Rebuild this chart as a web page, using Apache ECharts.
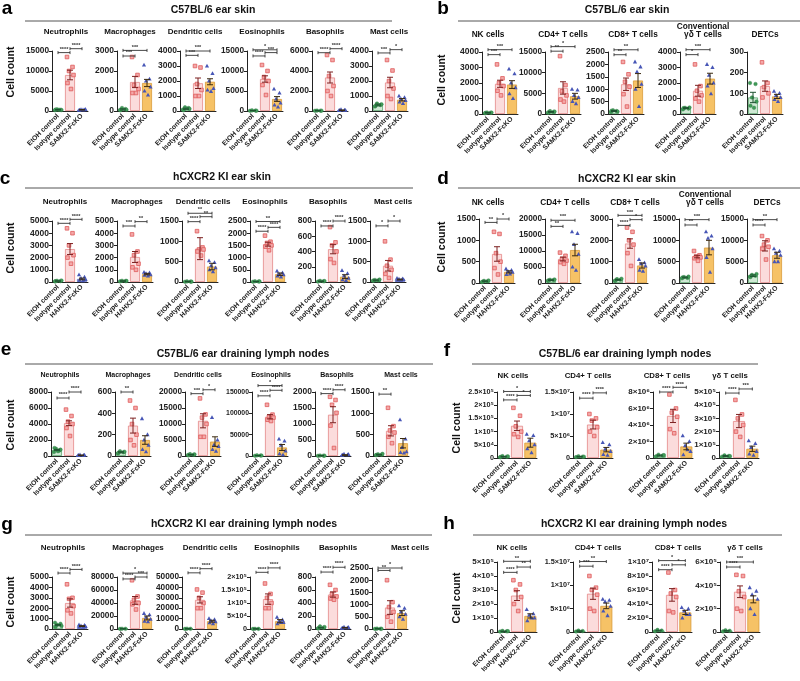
<!DOCTYPE html>
<html><head><meta charset="utf-8">
<script src="https://cdn.jsdelivr.net/npm/echarts@6/dist/echarts.min.js"></script>
<style>html,body{margin:0;padding:0;background:#fff}#c{width:800px;height:681px}</style>
</head><body><div id="c"></div>
<script>
// ---------------- DATA ----------------
const groupsSAMX = ['EtOH control', 'Isotype control', 'SAMX2-FcKO'];
const groupsHAHX = ['EtOH control', 'Isotype control', 'HAHX2-FcKO'];
const myeloidCells = ['Neutrophils', 'Macrophages', 'Dendritic cells', 'Eosinophils', 'Basophils', 'Mast cells'];
const skinLymphCells = ['NK cells', 'CD4+ T cells', 'CD8+ T cells', 'Conventional\nγδ T cells', 'DETCs'];
const lnLymphCells = ['NK cells', 'CD4+ T cells', 'CD8+ T cells', 'γδ T cells'];

// a: C57BL/6 ear skin
const aMax = [15000, 3000, 4000, 15000, 6000, 4000];
const aStep = [5000, 1000, 1000, 5000, 2000, 1000];
const aMean = [[300, 9000, 300], [80, 1450, 1400], [150, 1850, 1950], [100, 8000, 3000], [30, 3350, 80], [400, 1900, 750]];
const aSem = [[50, 1200, 50], [30, 280, 180], [40, 350, 200], [30, 800, 600], [10, 550, 20], [60, 350, 80]];
const aPts = [
  [[200, 300, 400, 250, 350, 300], [13500, 11000, 10000, 9000, 7000, 5500], [200, 300, 350, 400, 250, 300]],
  [[50, 100, 150, 60, 40], [2700, 1800, 1300, 1100, 900, 900], [2300, 1600, 1500, 1200, 1000, 800]],
  [[100, 200, 250, 150, 50], [3000, 2900, 1800, 1400, 1000, 1000], [3000, 2500, 2000, 1500, 1400, 1300]],
  [[50, 100, 150, 80], [11500, 10000, 8500, 7500, 6500, 4000], [5500, 4500, 3000, 2000, 1500, 1000]],
  [[20, 30, 40, 30], [5600, 5100, 3500, 2500, 2000, 1500], [50, 100, 150, 80, 60]],
  [[300, 400, 500, 450, 350], [3400, 2700, 2000, 1500, 1000, 800], [1000, 900, 800, 700, 600, 500]]
];
const aSig = [
  [[0, 1, '****', 14600], [1, 2, '****', 15580]],
  [[0, 1, '***', 2750], [0, 2, '***', 3030]],
  [[0, 1, '***', 3710], [0, 2, '***', 4000]],
  [[0, 1, '****', 13760], [1, 2, '***', 14600], [0, 2, '*', 15300]],
  [[0, 1, '****', 5830], [1, 2, '****', 6230]],
  [[0, 1, '***', 3870], [1, 2, '*', 4090]]
];
const aThird = ['b', 'o', 'o', 'o', 'b', 'o'];
const aSci = [0, 0, 0, 0, 0, 0];

// b: C57BL/6 ear skin
const bMax = [4000, 15000, 2500, 4000, 300];
const bStep = [1000, 5000, 500, 1000, 100];
const bMean = [[80, 1950, 1900], [500, 6300, 4300], [120, 1200, 1350], [380, 1500, 2280], [80, 135, 85]];
const bSem = [[20, 230, 250], [100, 1500, 700], [20, 250, 280], [30, 350, 350], [25, 25, 10]];
const bPts = [
  [[50, 80, 100, 90, 70], [3200, 2300, 2000, 1800, 1500, 1200], [2900, 2600, 2000, 1700, 1300, 1000]],
  [[300, 500, 700, 600, 400], [14000, 7000, 5500, 4500, 3500, 3000], [6000, 5800, 4500, 4000, 3000, 2500]],
  [[80, 120, 150, 100, 130], [2100, 1600, 1300, 1100, 800, 300], [2100, 1900, 1700, 1200, 1000, 300]],
  [[300, 350, 400, 420, 380], [3200, 1800, 1500, 1200, 1000, 800], [3200, 3000, 2500, 2000, 1800, 1300]],
  [[150, 145, 80, 60, 40, 30], [250, 150, 130, 100, 80], [110, 100, 90, 80, 70, 60]]
];
const bSig = [
  [[0, 1, '***', 3830], [0, 2, '***', 4150]],
  [[0, 1, '**', 15200], [0, 2, '*', 16300]],
  [[0, 1, '**', 2390], [0, 2, '**', 2590]],
  [[0, 1, '*', 3830], [0, 2, '***', 4150]],
  []
];
const bThird = ['o', 'o', 'o', 'o', 'o'];
const bSci = [0, 0, 0, 0, 0];

// c: hCXCR2 KI ear skin
const cMax = [5000, 5000, 1500, 2500, 800, 1500];
const cStep = [1000, 1000, 500, 500, 200, 500];
const cMean = [[80, 2700, 250], [80, 2050, 650], [10, 820, 380], [20, 1550, 320], [10, 430, 70], [40, 400, 60]];
const cSem = [[20, 450, 70], [20, 450, 60], [5, 270, 80], [5, 80, 50], [3, 60, 25], [10, 130, 10]];
const cPts = [
  [[50, 80, 100, 120, 60], [4400, 4000, 3000, 2200, 2000, 1500], [600, 400, 300, 200, 150, 100]],
  [[50, 80, 100, 90], [3900, 2500, 2200, 1500, 1200, 1000], [800, 750, 700, 600, 550, 500]],
  [[5, 10, 15, 8], [1250, 850, 800, 800, 750, 650], [520, 480, 400, 350, 300, 250]],
  [[10, 20, 30, 25], [1900, 1650, 1600, 1500, 1450, 1300], [450, 380, 320, 300, 250, 200]],
  [[5, 10, 15, 12], [720, 520, 480, 400, 300, 250], [150, 110, 80, 50, 30, 20]],
  [[30, 40, 50, 60, 35], [1000, 550, 400, 300, 200, 100], [90, 80, 70, 60, 50, 40]]
];
const cSig = [
  [[0, 1, '****', 4810], [1, 2, '****', 5136]],
  [[0, 1, '***', 4590], [1, 2, '**', 4950]],
  [[0, 1, '****', 1484], [1, 2, '**', 1606], [0, 2, '**', 1690]],
  [[0, 1, '****', 2080], [1, 2, '****', 2240], [0, 2, '**', 2480]],
  [[0, 1, '****', 735], [1, 2, '****', 800]],
  [[0, 1, '*', 1380], [1, 2, '*', 1500]]
];
const cThird = ['b', 'o', 'o', 'o', 'o', 'b'];
const cSci = [0, 0, 0, 0, 0, 0];

// d: hCXCR2 KI ear skin
const dMax = [1500, 20000, 3000, 15000, 15000];
const dStep = [500, 5000, 1000, 5000, 5000];
const dMean = [[40, 680, 260], [900, 7500, 10300], [150, 1850, 820], [1300, 6200, 8300], [1700, 8700, 6500]];
const dSem = [[10, 170, 25], [100, 600, 1800], [20, 220, 120], [100, 300, 1700], [200, 1200, 700]];
const dPts = [
  [[20, 40, 50, 60, 30], [1200, 1150, 700, 500, 350, 200], [330, 300, 270, 250, 200, 210]],
  [[700, 900, 1000, 1100, 800], [9500, 8500, 7500, 7000, 6500, 6000], [16000, 15500, 12000, 9000, 5000, 4000]],
  [[100, 150, 180, 200, 120], [2600, 2400, 2000, 1800, 1400, 800], [1100, 950, 900, 800, 600, 550]],
  [[1100, 1200, 1400, 1500, 1300], [7500, 6500, 6200, 6000, 5800, 5200], [12000, 11000, 10500, 8000, 6000, 2500]],
  [[1500, 1700, 1900, 2100, 1400], [11000, 10000, 9000, 8500, 8000, 5500], [8000, 7500, 7000, 6500, 5000, 5000]]
];
const dSig = [
  [[0, 1, '**', 1420], [1, 2, '*', 1500]],
  [[0, 1, '**', 17700], [0, 2, '***', 19600]],
  [[0, 1, '****', 2700], [1, 2, '*', 2970], [0, 2, '***', 3170]],
  [[0, 1, '**', 13600], [0, 2, '***', 14850]],
  [[0, 1, '****', 13600], [0, 2, '**', 14850]]
];
const dThird = ['o', 'o', 'o', 'o', 'o'];
const dSci = [0, 0, 0, 0, 0];

// e: C57BL/6 ear draining lymph nodes
const eMax = [8000, 600, 20000, 150000, 2000, 1500];
const eStep = [2000, 200, 5000, 50000, 500, 500];
const eMean = [[750, 4100, 100], [35, 285, 150], [400, 11000, 4500], [1000, 92000, 20000], [10, 1290, 30], [30, 590, 300]];
const eSem = [[80, 300, 20], [5, 70, 40], [100, 2200, 1500], [200, 5000, 7000], [3, 250, 10], [8, 120, 110]];
const ePts = [
  [[500, 700, 900, 800, 1000, 600], [5800, 5000, 4300, 4000, 3500, 2500], [50, 100, 150, 120, 80]],
  [[25, 35, 45, 40, 30], [520, 450, 300, 200, 150, 100], [350, 200, 150, 100, 60, 40]],
  [[300, 400, 600, 500, 200], [18000, 13000, 12000, 10000, 6000, 6000], [12000, 5000, 3500, 3000, 2000, 1500]],
  [[500, 1000, 1500, 1000], [120000, 97000, 92000, 90000, 85000, 82000], [40000, 35000, 25000, 12000, 5000, 3000]],
  [[5, 10, 15, 10], [1850, 1750, 1600, 1350, 950, 250], [20, 40, 60, 50, 30]],
  [[20, 30, 40, 50, 25], [1130, 700, 600, 550, 450, 300], [850, 400, 200, 100, 80, 70]]
];
const eSig = [
  [[0, 1, '****', 7250], [1, 2, '****', 8000]],
  [[0, 1, '**', 600]],
  [[0, 1, '***', 19480], [1, 2, '*', 20700]],
  [[0, 1, '****', 141000], [1, 2, '****', 154000], [0, 2, '*', 165000]],
  [[0, 1, '****', 1950], [1, 2, '****', 2070]],
  [[0, 1, '**', 1450]]
];
const eThird = ['b', 'o', 'o', 'o', 'b', 'o'];
const eSci = [0, 0, 0, 0, 0, 0];

// f: C57BL/6 ear draining lymph nodes
const fMax = [250000, 15000000, 8000000, 500000];
const fStep = [50000, 5000000, 2000000, 100000];
const fMean = [[5000, 122000, 58000], [300000, 7600000, 1900000], [300000, 5100000, 1400000], [15000, 280000, 70000]];
const fSem = [[1000, 18000, 17000], [60000, 1000000, 500000], [60000, 800000, 400000], [3000, 50000, 20000]];
const fPts = [
  [[3000, 5000, 7000, 6000, 4000], [190000, 160000, 120000, 100000, 90000, 80000], [90000, 85000, 65000, 50000, 35000, 20000]],
  [[200000, 300000, 400000, 300000], [10000000, 9000000, 8500000, 7000000, 6000000, 5000000], [3500000, 3000000, 2000000, 1500000, 800000, 600000]],
  [[200000, 300000, 400000, 350000], [7700000, 6000000, 5500000, 5000000, 3500000, 3000000], [2700000, 2000000, 1500000, 800000, 400000, 1000000]],
  [[10000, 15000, 20000, 15000], [440000, 330000, 300000, 250000, 200000, 160000], [130000, 110000, 80000, 50000, 30000, 20000]]
];
const fSig = [
  [[0, 1, '****', 220000], [1, 2, '*', 237000], [0, 2, '*', 252000]],
  [[0, 1, '****', 13600000], [1, 2, '****', 14800000]],
  [[0, 1, '****', 8000000], [1, 2, '****', 8570000]],
  [[0, 1, '****', 492000], [1, 2, '***', 523000]]
];
const fThird = ['o', 'o', 'o', 'o'];
const fSci = [1, 1, 1, 1];

// g: hCXCR2 KI ear draining lymph nodes
const gMax = [5000, 80000, 50000, 200000, 800, 2500];
const gStep = [1000, 20000, 10000, 50000, 200, 500];
const gMean = [[380, 2500, 280], [300, 44000, 17000], [200, 28000, 7500], [500, 115000, 30000], [20, 530, 20], [10, 880, 650]];
const gSem = [[60, 400, 40], [50, 6000, 3000], [50, 3000, 900], [100, 20000, 6000], [5, 40, 5], [3, 280, 100]];
const gPts = [
  [[600, 500, 400, 300, 200], [4300, 3000, 2900, 2200, 1800, 1500], [400, 350, 300, 250, 200, 180]],
  [[200, 300, 400], [75000, 50000, 45000, 40000, 38000, 30000], [24000, 22000, 18000, 15000, 12000, 11000]],
  [[100, 200, 300], [38000, 35000, 30000, 25000, 20000, 20000], [10000, 9000, 8000, 7000, 6000, 5000]],
  [[300, 500, 700], [175000, 135000, 120000, 100000, 80000, 80000], [45000, 35000, 30000, 25000, 20000, 25000]],
  [[10, 20, 40, 30, 10], [680, 600, 540, 500, 470, 450], [10, 20, 30, 25, 15]],
  [[5, 10, 15, 8], [2000, 1100, 900, 700, 500, 300], [950, 850, 700, 600, 500, 400]]
];
const gSig = [
  [[0, 1, '****', 5380], [1, 2, '****', 5730]],
  [[0, 1, '****', 77000], [1, 2, '***', 80000], [0, 2, '*', 86000]],
  [[0, 1, '****', 54000], [1, 2, '****', 58000]],
  [[0, 1, '****', 218000], [1, 2, '****', 235000]],
  [[0, 1, '****', 876], [1, 2, '****', 950]],
  [[0, 1, '**', 2400], [0, 2, '*', 2500]]
];
const gThird = ['b', 'o', 'o', 'o', 'b', 'o'];
const gSci = [0, 0, 0, 1, 0, 0];

// h: hCXCR2 KI ear draining lymph nodes
const hMax = [500000, 15000000, 10000000, 600000];
const hStep = [100000, 5000000, 2000000, 200000];
const hMean = [[5000, 260000, 115000], [200000, 8200000, 5600000], [200000, 5300000, 2800000], [10000, 345000, 280000]];
const hSem = [[1000, 35000, 15000], [50000, 1200000, 600000], [50000, 900000, 300000], [2000, 50000, 30000]];
const hPts = [
  [[3000, 5000, 8000, 6000], [370000, 340000, 300000, 250000, 200000, 150000], [160000, 130000, 120000, 100000, 80000, 100000]],
  [[100000, 200000, 300000], [12000000, 9500000, 9000000, 8000000, 5000000, 4500000], [7000000, 6800000, 6500000, 5500000, 4500000, 3500000]],
  [[100000, 200000, 300000], [8500000, 6000000, 5500000, 5000000, 3000000, 2800000], [3500000, 3300000, 3000000, 2500000, 2000000, 2500000]],
  [[5000, 10000, 15000], [490000, 480000, 350000, 300000, 200000, 180000], [380000, 350000, 320000, 280000, 200000, 150000]]
];
const hSig = [
  [[0, 1, '****', 426000], [1, 2, '**', 464000], [0, 2, '**', 505000]],
  [[0, 1, '***', 14100000], [0, 2, '**', 15100000]],
  [[0, 1, '****', 8900000], [1, 2, '*', 9600000], [0, 2, '*', 10200000]],
  [[0, 1, '****', 557000], [0, 2, '***', 600000]]
];
const hThird = ['o', 'o', 'o', 'o'];
const hSci = [1, 1, 1, 1];

// ---------------- LAYOUT (positions/styles only) ----------------
const layout = {
  a: {x: [52, 117, 180, 247, 312, 372], tx: [66, 130, 195, 262, 325, 389], top: 51, bottom: 111, sy: 32, sfs: 8},
  b: {x: [482, 545, 608, 680, 747], tx: [488, 563, 633, 703, 765], top: 52, bottom: 114, sy: 35, sfs: 8.3},
  c: {x: [52, 117, 182, 250, 315, 370], tx: [65, 137, 203, 265, 328, 393], top: 221, bottom: 282, sy: 202, sfs: 8},
  d: {x: [479, 545, 612, 679, 747], tx: [488, 565, 635, 705, 767], top: 219, bottom: 283, sy: 203, sfs: 8.3},
  e: {x: [51, 115, 185, 252, 315, 373], tx: [60, 128, 198, 271, 337, 401], top: 392, bottom: 456, sy: 375, sfs: 7},
  f: {x: [497, 573, 653, 719], tx: [513, 588, 667, 730], top: 392, bottom: 458, sy: 376, sfs: 7.8, w: 40, bw: 12},
  g: {x: [52, 117, 182, 250, 315, 372], tx: [63, 138, 210, 277, 338, 410], top: 577, bottom: 629, sy: 548, sfs: 8, tops: {5: 568}},
  h: {x: [497, 573, 652, 720], tx: [512, 598, 678, 745], top: 562, bottom: 632, sy: 548, sfs: 7.8, w: 40, bw: 12}
};
const headers = {
  a: {letter: [7, 9], title: [213, 10], line: [25, 392, 21], ylab: [11, 72]},
  b: {letter: [443, 9], title: [627, 10], line: [458, 800, 21], ylab: [442, 80]},
  c: {letter: [5, 179], title: [222, 177], line: [25, 413, 188], ylab: [11, 248]},
  d: {letter: [443, 179], title: [627, 179], line: [458, 800, 188], ylab: [442, 247]},
  e: {letter: [6, 350], title: [243, 354], line: [25, 433, 364], ylab: [11, 425]},
  f: {letter: [447, 351], title: [625, 354], line: [472, 758, 364], ylab: [457, 428]},
  g: {letter: [7, 525], title: [244, 524], line: [25, 432, 535], ylab: [11, 602]},
  h: {letter: [449, 524], title: [634, 524], line: [473, 782, 535], ylab: [457, 598]}
};

const panels = [
  {id: 'a', title: 'C57BL/6 ear skin', groups: groupsSAMX, cells: myeloidCells, max: aMax, step: aStep, mean: aMean, sem: aSem, pts: aPts, sig: aSig, third: aThird, sci: aSci},
  {id: 'b', title: 'C57BL/6 ear skin', groups: groupsSAMX, cells: skinLymphCells, max: bMax, step: bStep, mean: bMean, sem: bSem, pts: bPts, sig: bSig, third: bThird, sci: bSci},
  {id: 'c', title: 'hCXCR2 KI ear skin', groups: groupsHAHX, cells: myeloidCells, max: cMax, step: cStep, mean: cMean, sem: cSem, pts: cPts, sig: cSig, third: cThird, sci: cSci},
  {id: 'd', title: 'hCXCR2 KI ear skin', groups: groupsHAHX, cells: skinLymphCells, max: dMax, step: dStep, mean: dMean, sem: dSem, pts: dPts, sig: dSig, third: dThird, sci: dSci},
  {id: 'e', title: 'C57BL/6 ear draining lymph nodes', groups: groupsSAMX, cells: myeloidCells, max: eMax, step: eStep, mean: eMean, sem: eSem, pts: ePts, sig: eSig, third: eThird, sci: eSci},
  {id: 'f', title: 'C57BL/6 ear draining lymph nodes', groups: groupsSAMX, cells: lnLymphCells, max: fMax, step: fStep, mean: fMean, sem: fSem, pts: fPts, sig: fSig, third: fThird, sci: fSci},
  {id: 'g', title: 'hCXCR2 KI ear draining lymph nodes', groups: groupsHAHX, cells: myeloidCells, max: gMax, step: gStep, mean: gMean, sem: gSem, pts: gPts, sig: gSig, third: gThird, sci: gSci},
  {id: 'h', title: 'hCXCR2 KI ear draining lymph nodes', groups: groupsHAHX, cells: lnLymphCells, max: hMax, step: hStep, mean: hMean, sem: hSem, pts: hPts, sig: hSig, third: hThird, sci: hSci}
];

// ---------------- RENDER ----------------
const FONT = '"Liberation Sans", Arial, Helvetica, sans-serif';
const FILL = ['#cfe9d4', '#fbdcdc', '#f6c266'];
const BORDER = ['#5aa46c', '#e48888', '#d99a3a'];
const BLUE_FILL = '#c9cdee', BLUE_BORDER = '#5b66b6';
const ERR = ['#1e5230', '#7d2020', '#3b2a10'];
const JIT = [-3, 2.5, -1, 3.5, -2.5, 1, 0];
const SUP = {'0': '⁰', '1': '¹', '2': '²', '3': '³', '4': '⁴', '5': '⁵', '6': '⁶', '7': '⁷', '8': '⁸', '9': '⁹', '-': '⁻'};
function sciFmt(v) {
  if (v === 0) return '0';
  const e = Math.floor(Math.log10(v) + 1e-9);
  const m = Math.round(v / Math.pow(10, e) * 100) / 100;
  return m + '×10' + String(e).split('').map(c => SUP[c]).join('');
}
function plainFmt(v) { return String(v); }
function emWidth(s) {
  let w = 0;
  for (const ch of s) {
    if (/[0-9]/.test(ch)) w += 0.556; else if (ch === '.') w += 0.278; else if (ch === '×') w += 0.584; else w += 0.36;
  }
  return w;
}
function txt(text, x, y, size, opts) {
  opts = opts || {};
  return {
    type: 'text', x: x, y: y, rotation: opts.rotation || 0, silent: true,
    style: {
      text: text, x: 0, y: 0, fill: opts.fill || '#111',
      font: 'bold ' + size + 'px ' + FONT,
      textAlign: opts.align || 'center', align: opts.align || 'center',
      textVerticalAlign: opts.valign || 'middle', verticalAlign: opts.valign || 'middle',
      lineHeight: opts.lineHeight || size * 1.1
    }
  };
}

const grids = [], xAxes = [], yAxes = [], series = [], graphics = [];

panels.forEach(p => {
  const L = layout[p.id], H = headers[p.id];
  graphics.push(txt(p.id, H.letter[0], H.letter[1], 19, {fill: '#000'}));
  graphics.push(txt(p.title, H.title[0], H.title[1], 10.5, {fill: '#111'}));
  graphics.push({type: 'line', silent: true, shape: {x1: H.line[0], y1: H.line[2], x2: H.line[1], y2: H.line[2]}, style: {stroke: '#555', lineWidth: 1}});
  graphics.push(txt('Cell count', H.ylab[0], H.ylab[1], 10.5, {rotation: Math.PI / 2, fill: '#111'}));

  p.cells.forEach((cell, k) => {
    const gi = grids.length;
    const top = (L.tops && L.tops[k]) || L.top;
    const w = L.w || 36, bw = L.bw || 10;
    grids.push({left: L.x[k], top: top, width: w, height: L.bottom - top});
    const fmt = p.sci[k] ? sciFmt : plainFmt;
    let maxEm = 0;
    for (let i = 0; i * p.step[k] <= p.max[k] + 1e-9; i++) maxEm = Math.max(maxEm, emWidth(fmt(i * p.step[k])));
    const fs = p.sci[k] ? Math.min(8, 25 / maxEm) : Math.min(8.5, 23 / maxEm);
    xAxes.push({
      type: 'category', gridIndex: gi, data: p.groups,
      axisLine: {lineStyle: {color: '#222', width: 1}}, axisTick: {show: false},
      axisLabel: {interval: 0, rotate: 45, fontSize: 6.8, fontWeight: 'bold', color: '#222', margin: 4, fontFamily: FONT}
    });
    yAxes.push({
      type: 'value', gridIndex: gi, min: 0, max: p.max[k], interval: p.step[k],
      axisLine: {show: true, lineStyle: {color: '#222', width: 1}},
      axisTick: {show: true, length: 3, lineStyle: {color: '#222', width: 1}},
      splitLine: {show: false},
      axisLabel: {fontSize: fs, fontWeight: 'bold', color: '#222', margin: 3, fontFamily: FONT, formatter: fmt}
    });
    // subtitle
    graphics.push(txt(cell, L.tx[k], L.sy + L.sfs * 0.5, L.sfs, {valign: 'bottom', lineHeight: L.sfs * 1.0}));

    const blue = p.third[k] === 'b';
    series.push({
      type: 'bar', xAxisIndex: gi, yAxisIndex: gi, barWidth: bw, z: 2, silent: true,
      data: p.mean[k].map((m, i) => ({
        value: m,
        itemStyle: {
          color: (i === 2 && blue) ? BLUE_FILL : FILL[i],
          borderColor: (i === 2 && blue) ? BLUE_BORDER : BORDER[i],
          borderWidth: 0.8
        }
      }))
    });
    // points
    const ptData = [];
    p.pts[k].forEach((arr, gIdx) => arr.forEach((v, j) => ptData.push([gIdx, v, j])));
    series.push({
      type: 'custom', coordinateSystem: 'cartesian2d', xAxisIndex: gi, yAxisIndex: gi, z: 3, silent: true, clip: false,
      data: ptData,
      renderItem: function (params, api) {
        const g = api.value(0), v = api.value(1), j = api.value(2);
        const c = api.coord([g, v]);
        const x = c[0] + JIT[j % JIT.length] * (bw / 10), y = c[1];
        if (g === 0) return {type: 'circle', shape: {cx: x, cy: y, r: 1.8}, style: {fill: '#3f9b57', stroke: '#2f7a44', lineWidth: 0.4}};
        if (g === 1) return {type: 'rect', shape: {x: x - 1.8, y: y - 1.8, width: 3.6, height: 3.6}, style: {fill: '#f4a9a9', stroke: '#de5a5a', lineWidth: 0.8}};
        return {type: 'polygon', shape: {points: [[x, y - 2.3], [x - 2.1, y + 1.5], [x + 2.1, y + 1.5]]}, style: {fill: '#4756b6'}};
      }
    });
    // error bars
    series.push({
      type: 'custom', coordinateSystem: 'cartesian2d', xAxisIndex: gi, yAxisIndex: gi, z: 4, silent: true, clip: false,
      data: p.mean[k].map((m, i) => [i, m, p.sem[k][i]]),
      renderItem: function (params, api) {
        const g = api.value(0), m = api.value(1), s = api.value(2);
        const hi = api.coord([g, m + s]), lo = api.coord([g, Math.max(0, m - s)]);
        const x = hi[0], cw = 3, col = ERR[g];
        const st = {stroke: col, lineWidth: 1};
        return {type: 'group', children: [
          {type: 'line', shape: {x1: x, y1: lo[1], x2: x, y2: hi[1]}, style: st},
          {type: 'line', shape: {x1: x - cw, y1: hi[1], x2: x + cw, y2: hi[1]}, style: st},
          {type: 'line', shape: {x1: x - cw, y1: lo[1], x2: x + cw, y2: lo[1]}, style: st}
        ]};
      }
    });
    // significance brackets
    const sigList = p.sig[k];
    if (sigList.length) {
      series.push({
        type: 'custom', coordinateSystem: 'cartesian2d', xAxisIndex: gi, yAxisIndex: gi, z: 4, silent: true, clip: false,
        data: sigList.map(s => [s[0], s[3], s[1]]),
        renderItem: function (params, api) {
          const i = api.value(0), yv = api.value(1), j = api.value(2);
          const label = sigList[params.dataIndex][2];
          const a = api.coord([i, yv]), b = api.coord([j, yv]);
          const y = a[1], st = {stroke: '#333', lineWidth: 0.9};
          return {type: 'group', children: [
            {type: 'line', shape: {x1: a[0], y1: y, x2: b[0], y2: y}, style: st},
            {type: 'line', shape: {x1: a[0], y1: y - 1.5, x2: a[0], y2: y + 1.5}, style: st},
            {type: 'line', shape: {x1: b[0], y1: y - 1.5, x2: b[0], y2: y + 1.5}, style: st},
            {type: 'text', style: {text: label, x: (a[0] + b[0]) / 2, y: y - 0.3, fill: '#333',
              font: 'bold 5.5px ' + FONT, textAlign: 'center', align: 'center', textVerticalAlign: 'bottom', verticalAlign: 'bottom'}}
          ]};
        }
      });
    }
  });
});

const chart = echarts.init(document.getElementById('c'));
chart.setOption({
  animation: false,
  backgroundColor: '#fff',
  grid: grids, xAxis: xAxes, yAxis: yAxes, series: series,
  graphic: {elements: graphics}
});
</script>
</body></html>
